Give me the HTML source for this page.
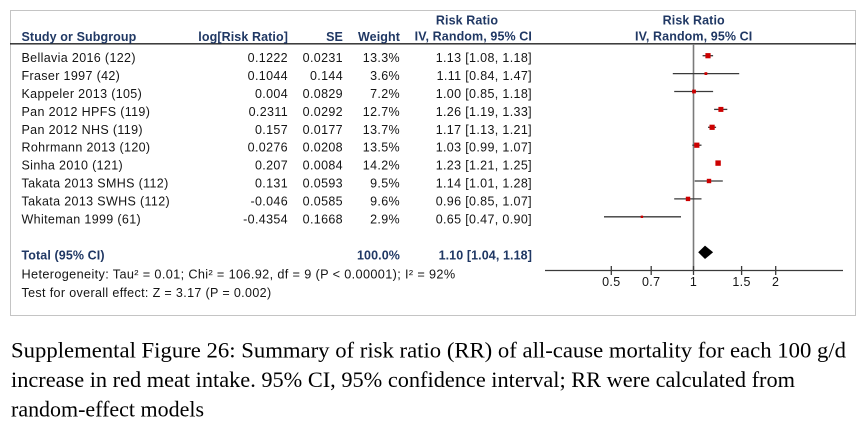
<!DOCTYPE html>
<html><head><meta charset="utf-8"><style>
html,body{margin:0;padding:0;background:#fff;}
svg{display:block;}
.t{font-family:"Liberation Sans",Arial,sans-serif;font-size:12.5px;fill:#151515;letter-spacing:0.35px;}
.h{font-family:"Liberation Sans",Arial,sans-serif;font-size:12.5px;font-weight:bold;fill:#203864;letter-spacing:0.1px;}
.c{font-family:"Liberation Serif","Times New Roman",serif;font-size:22px;fill:#000;}
.e{text-anchor:end;}
.m{text-anchor:middle;}
</style></head><body>
<svg width="867" height="429" viewBox="0 0 867 429" xmlns="http://www.w3.org/2000/svg">
<rect x="0" y="0" width="867" height="429" fill="#fff"/>
<rect x="10.5" y="10.5" width="845" height="305" fill="none" stroke="#c4c4c4" stroke-width="1"/>
<line x1="10" y1="43.8" x2="856" y2="43.8" stroke="#222" stroke-width="1.3"/>

<!-- headers -->
<text class="h" x="21.5" y="41">Study or Subgroup</text>
<text class="h e" x="288" y="41">log[Risk Ratio]</text>
<text class="h e" x="343" y="41">SE</text>
<text class="h e" x="400" y="41">Weight</text>
<text class="h m" x="467" y="24.5">Risk Ratio</text>
<text class="h e" x="532" y="40.5">IV, Random, 95% CI</text>
<text class="h m" x="693.7" y="24.5">Risk Ratio</text>
<text class="h m" x="693.7" y="40.5">IV, Random, 95% CI</text>

<!-- rows -->
<g>
<text class="t" x="21.5" y="62.2">Bellavia 2016 (122)</text><text class="t e" x="288" y="62.2">0.1222</text><text class="t e" x="343" y="62.2">0.0231</text><text class="t e" x="400" y="62.2">13.3%</text><text class="t e" x="532" y="62.2">1.13 [1.08, 1.18]</text>
<text class="t" x="21.5" y="80.1">Fraser 1997 (42)</text><text class="t e" x="288" y="80.1">0.1044</text><text class="t e" x="343" y="80.1">0.144</text><text class="t e" x="400" y="80.1">3.6%</text><text class="t e" x="532" y="80.1">1.11 [0.84, 1.47]</text>
<text class="t" x="21.5" y="98.0">Kappeler 2013 (105)</text><text class="t e" x="288" y="98.0">0.004</text><text class="t e" x="343" y="98.0">0.0829</text><text class="t e" x="400" y="98.0">7.2%</text><text class="t e" x="532" y="98.0">1.00 [0.85, 1.18]</text>
<text class="t" x="21.5" y="115.9">Pan 2012 HPFS (119)</text><text class="t e" x="288" y="115.9">0.2311</text><text class="t e" x="343" y="115.9">0.0292</text><text class="t e" x="400" y="115.9">12.7%</text><text class="t e" x="532" y="115.9">1.26 [1.19, 1.33]</text>
<text class="t" x="21.5" y="133.8">Pan 2012 NHS (119)</text><text class="t e" x="288" y="133.8">0.157</text><text class="t e" x="343" y="133.8">0.0177</text><text class="t e" x="400" y="133.8">13.7%</text><text class="t e" x="532" y="133.8">1.17 [1.13, 1.21]</text>
<text class="t" x="21.5" y="151.7">Rohrmann 2013 (120)</text><text class="t e" x="288" y="151.7">0.0276</text><text class="t e" x="343" y="151.7">0.0208</text><text class="t e" x="400" y="151.7">13.5%</text><text class="t e" x="532" y="151.7">1.03 [0.99, 1.07]</text>
<text class="t" x="21.5" y="169.6">Sinha 2010 (121)</text><text class="t e" x="288" y="169.6">0.207</text><text class="t e" x="343" y="169.6">0.0084</text><text class="t e" x="400" y="169.6">14.2%</text><text class="t e" x="532" y="169.6">1.23 [1.21, 1.25]</text>
<text class="t" x="21.5" y="187.5">Takata 2013 SMHS (112)</text><text class="t e" x="288" y="187.5">0.131</text><text class="t e" x="343" y="187.5">0.0593</text><text class="t e" x="400" y="187.5">9.5%</text><text class="t e" x="532" y="187.5">1.14 [1.01, 1.28]</text>
<text class="t" x="21.5" y="205.4">Takata 2013 SWHS (112)</text><text class="t e" x="288" y="205.4">-0.046</text><text class="t e" x="343" y="205.4">0.0585</text><text class="t e" x="400" y="205.4">9.6%</text><text class="t e" x="532" y="205.4">0.96 [0.85, 1.07]</text>
<text class="t" x="21.5" y="223.3">Whiteman 1999 (61)</text><text class="t e" x="288" y="223.3">-0.4354</text><text class="t e" x="343" y="223.3">0.1668</text><text class="t e" x="400" y="223.3">2.9%</text><text class="t e" x="532" y="223.3">0.65 [0.47, 0.90]</text>
</g>

<!-- total -->
<text class="h" x="21.5" y="259.5">Total (95% CI)</text>
<text class="h e" x="400" y="259.5">100.0%</text>
<text class="h e" x="532" y="259.5">1.10 [1.04, 1.18]</text>
<text class="t" x="21.5" y="278.5" textLength="434" lengthAdjust="spacingAndGlyphs">Heterogeneity: Tau² = 0.01; Chi² = 106.92, df = 9 (P &lt; 0.00001); I² = 92%</text>
<text class="t" x="21.5" y="297" textLength="250" lengthAdjust="spacingAndGlyphs">Test for overall effect: Z = 3.17 (P = 0.002)</text>

<!-- plot -->
<line x1="693.5" y1="44" x2="693.5" y2="270.5" stroke="#7a7a7a" stroke-width="1.6"/>
<g stroke="#3a3a3a" stroke-width="1.3">
<line x1="702.6" y1="55.7" x2="713.1" y2="55.7"/>
<line x1="672.8" y1="73.6" x2="739.2" y2="73.6"/>
<line x1="674.2" y1="91.5" x2="713.1" y2="91.5"/>
<line x1="714.1" y1="109.4" x2="727.3" y2="109.4"/>
<line x1="708.0" y1="127.3" x2="716.1" y2="127.3"/>
<line x1="692.3" y1="145.2" x2="701.5" y2="145.2"/>
<line x1="694.7" y1="181.0" x2="722.8" y2="181.0"/>
<line x1="674.2" y1="198.9" x2="701.5" y2="198.9"/>
<line x1="604.0" y1="216.8" x2="681.0" y2="216.8"/>
</g>
<g fill="#cc0000">
<rect x="705.4" y="53.1" width="5.2" height="5.2"/>
<rect x="704.5" y="72.2" width="2.8" height="2.8"/>
<rect x="692.1" y="89.6" width="3.8" height="3.8"/>
<rect x="718.4" y="106.9" width="5.0" height="5.0"/>
<rect x="709.5" y="124.7" width="5.2" height="5.2"/>
<rect x="694.2" y="142.6" width="5.2" height="5.2"/>
<rect x="715.4" y="160.4" width="5.4" height="5.4"/>
<rect x="706.8" y="178.8" width="4.4" height="4.4"/>
<rect x="685.8" y="196.7" width="4.4" height="4.4"/>
<rect x="640.7" y="215.6" width="2.4" height="2.4"/>
</g>
<polygon points="698.2,252.3 705,245.6 713.1,252.3 705,259" fill="#000"/>

<line x1="545" y1="270.5" x2="843" y2="270.5" stroke="#3a3a3a" stroke-width="1.3"/>
<g stroke="#3a3a3a" stroke-width="1.3">
<line x1="611.3" y1="266" x2="611.3" y2="275"/>
<line x1="651.2" y1="266" x2="651.2" y2="275"/>
<line x1="693.5" y1="266" x2="693.5" y2="275"/>
<line x1="741.6" y1="266" x2="741.6" y2="275"/>
<line x1="775.7" y1="266" x2="775.7" y2="275"/>
</g>
<text class="t m" x="611.3" y="286">0.5</text>
<text class="t m" x="651.2" y="286">0.7</text>
<text class="t m" x="693.5" y="286">1</text>
<text class="t m" x="741.6" y="286">1.5</text>
<text class="t m" x="775.7" y="286">2</text>

<!-- caption -->
<text class="c" x="11" y="357.7" textLength="835" lengthAdjust="spacingAndGlyphs">Supplemental Figure 26: Summary of risk ratio (RR) of all-cause mortality for each 100 g/d</text>
<text class="c" x="11" y="386.9" textLength="784" lengthAdjust="spacingAndGlyphs">increase in red meat intake. 95% CI, 95% confidence interval; RR were calculated from</text>
<text class="c" x="11" y="416.6" textLength="193" lengthAdjust="spacingAndGlyphs">random-effect models</text>
</svg>
</body></html>
